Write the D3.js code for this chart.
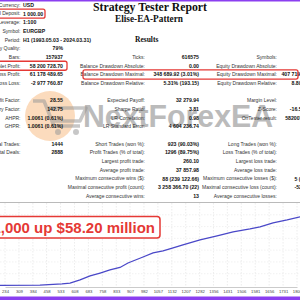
<!DOCTYPE html>
<html lang="en">
<head>
<meta charset="UTF-8">
<title>Strategy Tester Report</title>
<script src="https://d3js.org/d3.v7.min.js"></script>
<style>
    body { margin: 0; background: #fff; }
    svg { display: block; }
    .lbl { font-family: "Liberation Sans", Arial, sans-serif; font-size: 5px; fill: #333; }
    .val { font-family: "Liberation Sans", Arial, sans-serif; font-size: 5.2px; font-weight: bold; fill: #111; }
    .tick text { font-family: "Liberation Sans", Arial, sans-serif; font-size: 4.2px; fill: #444; }
</style>
</head>
<body>
<div id="chart"></div>
<script>
    // report rows (index = row, "" = empty)
    const leftLabels = ["Currency:", "Initial Deposit:", "Leverage:", "Symbol:", "Period:", "History Quality:", "Bars:",
        "Total Net Profit:", "Gross Profit:", "Gross Loss:", "", "Profit Factor:", "Recovery Factor:", "AHPR:", "GHPR:", "",
        "Total Trades:", "Total Deals:", "", "", "", "", ""];
    const leftValues = ["USD", "1 000.00", "1:100", "EURGBP", "H1 (1993.05.03 - 2024.03.31)", "79%", "157937",
        "58 200 728.70", "61 178 489.65", "-2 977 760.87", "", "28.55", "142.75", "1.0061 (0.61%)", "1.0061 (0.61%)", "",
        "1444", "2888", "", "", "", "", ""];
    const midLabels = ["", "", "", "", "", "", "Ticks:", "Balance Drawdown Absolute:", "Balance Drawdown Maximal:",
        "Balance Drawdown Relative:", "", "Expected Payoff:", "Sharpe Ratio:", "LR Correlation:", "LR Standard Error:", "",
        "Short Trades (won %):", "Profit Trades (% of total):", "Largest profit trade:", "Average profit trade:",
        "Maximum consecutive wins ($):", "Maximal consecutive profit (count):", "Average consecutive wins:"];
    const midValues = ["", "", "", "", "", "", "616575", "0.00", "348 689.92 (3.01%)", "5.31% (193.15)", "",
        "32 279.94", "3.81", "0.98", "4 604 236.74", "", "923 (90.03%)", "1296 (89.75%)", "260.10", "37 857.98",
        "88 (239 122.66)", "3 258 366.70 (22)", "13"];
    const rightLabels = ["", "", "", "", "", "", "Symbols:", "Equity Drawdown Absolute:", "Equity Drawdown Maximal:",
        "Equity Drawdown Relative:", "", "Margin Level:", "Z-Score:", "OnTester result:", "", "",
        "Long Trades (won %):", "Loss Trades (% of total):", "Largest loss trade:", "Average loss trade:",
        "Maximum consecutive losses ($):", "Maximal consecutive loss (count):", "Average consecutive losses:"];
    const rightValues = ["", "", "", "", "", "", "1", "0.00", "407 719.53 (3.46%)", "8.89% (301.12)", "",
        "", "-16.53 (99.74%)", "58200728.700000", "", "", "", "", "", "",
        "5 (-52 356.12)", "-52 356.12 (5)", ""];
    const boxedRows = [1, 7];

    // balance curve (trade #, balance in millions USD)
    const trades = [0, 207, 422, 541, 584, 638, 692, 746, 799, 853, 896, 923, 977, 1031, 1085, 1139, 1192,
        1284, 1376, 1462, 1553, 1607, 1677, 1753, 1823];
    const balance = [0.001, 0.15, 0.4, 1.3, 2.1, 4.7, 8.1, 10.6, 13.2, 15.3, 19.1, 20.8, 24.2, 27.6, 29.3,
        31.9, 34.4, 38.7, 42.1, 45.5, 48.0, 49.7, 53.1, 55.6, 58.2];
    const tickLabels = [234, 309, 384, 458, 533, 608, 683, 758, 833, 907, 982, 1057, 1132, 1207, 1282,
        1356, 1431, 1506, 1581, 1656, 1731, 1806];
    const headline = "$1,000 up $58.20 million";

    const width = 300, height = 300;
    const svg = d3.select("#chart").append("svg")
        .attr("width", width).attr("height", height);

    svg.append("rect").attr("width", width).attr("height", height).attr("fill", "#fff");

    // watermark
    const wm = svg.append("g");
    wm.append("circle").attr("cx", 50).attr("cy", 116).attr("r", 25)
        .attr("fill", "#f5a55a").attr("opacity", 0.4);
    wm.append("path")
        .attr("d", "M33,101 L44,101 L54,126 L80,126 M47,108 L86,108 L80,121 L52,121")
        .attr("fill", "none").attr("stroke", "#999").attr("stroke-width", 3.5)
        .attr("stroke-linejoin", "round").attr("opacity", 0.55);
    wm.selectAll("circle.wheel").data([58, 76]).enter().append("circle")
        .attr("class", "wheel").attr("cx", d => d).attr("cy", 132).attr("r", 3)
        .attr("fill", "#999").attr("opacity", 0.55);
    wm.append("text").attr("x", 83).attr("y", 127)
        .attr("textLength", 190).attr("lengthAdjust", "spacingAndGlyphs")
        .style("font-family", "'Liberation Sans', Arial, sans-serif")
        .style("font-size", "32px").style("font-weight", "bold")
        .attr("fill", "#8f8f8f").attr("opacity", 0.6)
        .text("NextForexEA");

    // titles
    svg.append("text").attr("x", 150).attr("y", 10.8).attr("text-anchor", "middle")
        .attr("textLength", 114).attr("lengthAdjust", "spacingAndGlyphs")
        .style("font-family", "'Liberation Serif', serif").style("font-size", "12.5px")
        .style("font-weight", "bold").attr("fill", "#111").text("Strategy Tester Report");
    svg.append("text").attr("x", 149).attr("y", 21.5).attr("text-anchor", "middle")
        .attr("textLength", 68).attr("lengthAdjust", "spacingAndGlyphs")
        .style("font-family", "'Liberation Serif', serif").style("font-size", "10px")
        .style("font-weight", "bold").attr("fill", "#111").text("Elise-EA-Pattern");
    svg.append("text").attr("x", 135).attr("y", 41.6)
        .style("font-family", "'Liberation Serif', serif").style("font-size", "7.5px")
        .style("font-weight", "bold").attr("fill", "#111").text("Results");

    const rowY = d3.scaleLinear().domain([0, 22]).range([5, 196]);
    const idx = d3.range(23);

    function column(labels, values, labelX, valueX, valueAnchor) {
        const g = svg.append("g");
        g.selectAll("text.lbl").data(idx.filter(i => labels[i])).enter().append("text")
            .attr("class", "lbl").attr("x", labelX).attr("y", i => rowY(i) + 1.8)
            .attr("text-anchor", "end").text(i => labels[i]);
        g.selectAll("text.val").data(idx.filter(i => values[i])).enter().append("text")
            .attr("class", "val").attr("x", i => typeof valueX === "function" ? valueX(i) : valueX)
            .attr("y", i => rowY(i) + 1.9)
            .attr("text-anchor", i => typeof valueAnchor === "function" ? valueAnchor(i) : valueAnchor)
            .text(i => values[i]);
    }
    column(leftLabels, leftValues, 20.5, i => i < 5 ? 23 : 63, i => i < 5 ? "start" : "end");
    column(midLabels, midValues, 145, 199, "end");
    column(rightLabels, rightValues, 277, 327, "end");

    // red highlight boxes
    svg.selectAll("rect.hl").data(boxedRows).enter().append("rect")
        .attr("class", "hl").attr("x", -3).attr("y", i => rowY(i) - 4.5)
        .attr("width", i => i === 1 ? 48 : 70).attr("height", 9).attr("rx", 2)
        .attr("fill", "none").attr("stroke", "#e53935").attr("stroke-width", 1.3);
    svg.append("rect").attr("x", 83).attr("y", rowY(8) - 4.6).attr("width", 215).attr("height", 9.2)
        .attr("rx", 2).attr("fill", "none").attr("stroke", "#e53935").attr("stroke-width", 1.3);

    // balance chart
    const plotTop = 203, plotBottom = 287;
    const x = d3.scaleLinear().domain([234, 1806]).range([5, 297]);
    const y = d3.scaleLinear().domain([0, 70]).range([285.5, plotTop]);

    const chart = svg.append("g");
    chart.append("rect").attr("x", 0).attr("y", 202).attr("width", width).attr("height", 86)
        .attr("fill", "#fff");
    chart.selectAll("line.vg").data(tickLabels).enter().append("line")
        .attr("class", "vg").attr("x1", d => x(d)).attr("x2", d => x(d))
        .attr("y1", plotTop).attr("y2", plotBottom)
        .attr("stroke", "#d8d8d8").attr("stroke-width", 0.5).attr("stroke-dasharray", "1.5,1.5");
    chart.selectAll("line.hg").data([10, 20, 30, 40, 50, 60]).enter().append("line")
        .attr("class", "hg").attr("x1", 0).attr("x2", width)
        .attr("y1", d => y(d)).attr("y2", d => y(d))
        .attr("stroke", "#e4e4e4").attr("stroke-width", 0.5).attr("stroke-dasharray", "1.5,1.5");
    chart.append("line").attr("x1", 0).attr("x2", width).attr("y1", 202.5).attr("y2", 202.5)
        .attr("stroke", "#a8a8a8").attr("stroke-width", 0.8);

    const points = trades.map((t, i) => [t, balance[i]]);
    chart.append("path").datum(points)
        .attr("fill", "none").attr("stroke", "#4a48c8").attr("stroke-width", 1.3)
        .attr("d", d3.line().x(d => x(d[0])).y(d => y(d[1])));

    const axis = chart.append("g").attr("transform", `translate(0,${plotBottom})`)
        .call(d3.axisBottom(x).tickValues(tickLabels).tickSize(0).tickPadding(3).tickFormat(d => d));
    axis.select(".domain").attr("stroke", "#a8a8a8").attr("stroke-width", 0.6);

    // headline
    svg.append("rect").attr("x", -4).attr("y", 216.5).attr("width", 164).attr("height", 21.5).attr("rx", 3)
        .attr("fill", "#fff").attr("stroke", "#e53935").attr("stroke-width", 1.5);
    svg.append("text").attr("x", 155).attr("y", 232.5).attr("text-anchor", "end")
        .style("font-family", "'Liberation Sans', Arial, sans-serif").style("font-size", "15px")
        .style("font-weight", "bold").attr("fill", "#e53935").text(headline);

    // purple frame bars
    svg.append("rect").attr("x", 0).attr("y", 0).attr("width", width).attr("height", 1.5).attr("fill", "#8b3ff0");
    svg.append("rect").attr("x", 0).attr("y", 296.5).attr("width", width).attr("height", 3.5).attr("fill", "#8b3ff0");
</script>
</body>
</html>
